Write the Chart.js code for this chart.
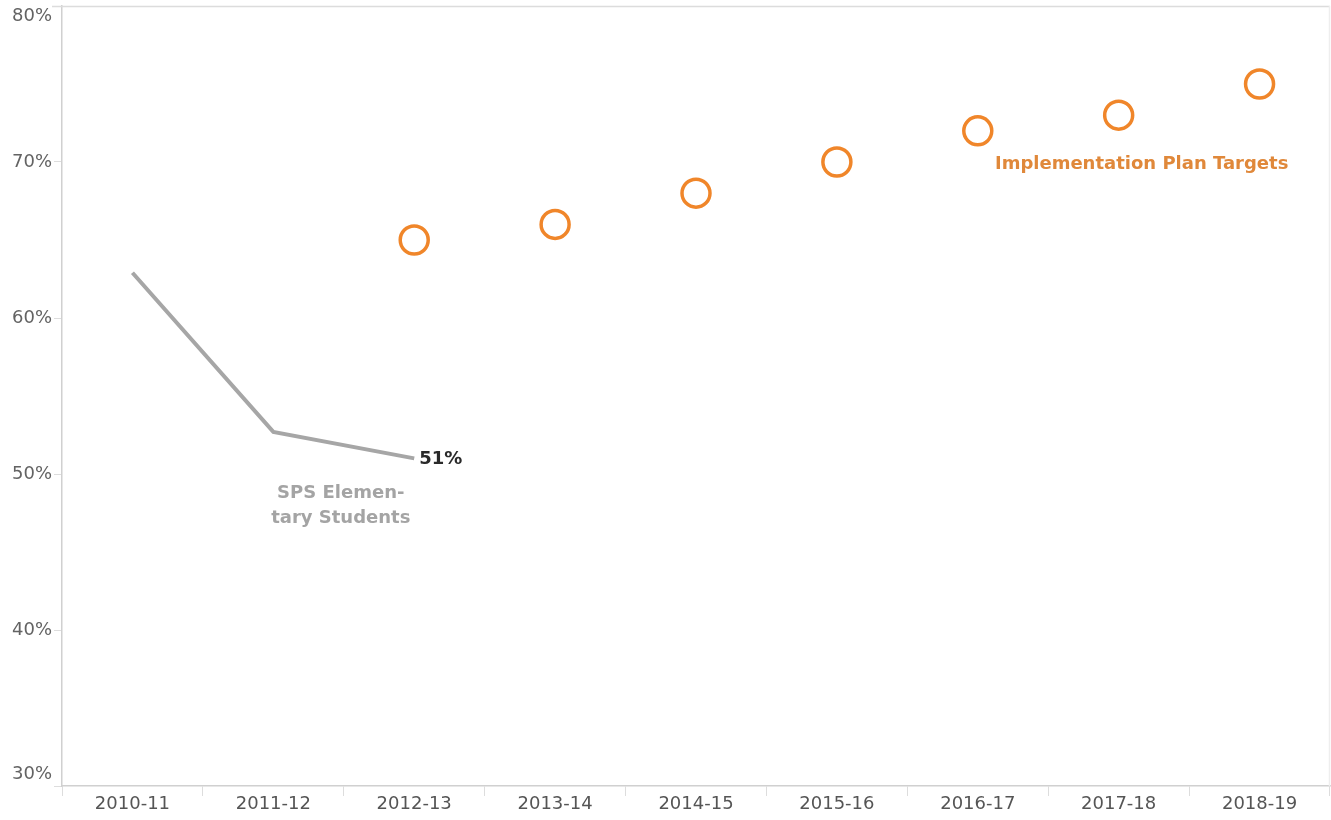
<!DOCTYPE html>
<html>
<head>
<meta charset="utf-8">
<script src="https://cdn.jsdelivr.net/npm/chart.js@4/dist/chart.umd.min.js"></script>
<style>
  html, body { margin: 0; padding: 0; background: #fff; }
  #wrap { width: 1331px; height: 820px; position: relative; }
</style>
</head>
<body>
<div id="wrap"><canvas id="c" width="1331" height="820"></canvas></div>
<script>
const categories = ['2010-11','2011-12','2012-13','2013-14','2014-15','2015-16','2016-17','2017-18','2018-19'];
const spsElementary = [62.9, 52.7, 51, null, null, null, null, null, null];
const planTargets = [null, null, 65, 66, 68, 70, 72, 73, 75];
const yTicks = [30, 40, 50, 60, 70, 80];

const FONT = "'DejaVu Sans', Verdana, sans-serif";

const decor = {
  id: 'decor',
  afterDraw(chart) {
    const ctx = chart.ctx;
    const ca = chart.chartArea;
    const ys = chart.scales.y;
    ctx.save();
    // top border
    ctx.strokeStyle = '#dcdcdc';
    ctx.lineWidth = 1.5;
    ctx.beginPath();
    ctx.moveTo(52, ca.top + 0.5);
    ctx.lineTo(ca.right, ca.top + 0.5);
    ctx.stroke();
    // right faint border
    ctx.strokeStyle = '#eeeeee';
    ctx.beginPath();
    ctx.moveTo(ca.right - 0.5, ca.top);
    ctx.lineTo(ca.right - 0.5, ca.bottom);
    ctx.stroke();
    // y labels
    ctx.font = '18px ' + FONT;
    ctx.fillStyle = '#636363';
    ctx.textAlign = 'right';
    ctx.textBaseline = 'middle';
    yTicks.forEach(v => {
      let y = ys.getPixelForValue(v);
      if (v === ys.max) y += 10;
      else if (v === ys.min) y -= 12;
      ctx.fillText(v + '%', 52, y);
    });
    // line labels
    const m0 = chart.getDatasetMeta(0).data;
    const m1 = chart.getDatasetMeta(1).data;
    const p2 = m0[2];
    ctx.textAlign = 'left';
    ctx.font = 'bold 18px ' + FONT;
    ctx.fillStyle = '#2a2a2a';
    ctx.fillText(Math.round(spsElementary[2]) + '%', p2.x + 5, p2.y + 1);
    ctx.textAlign = 'center';
    ctx.font = 'bold 18px ' + FONT;
    ctx.fillStyle = '#a4a4a4';
    const mx = (m0[1].x + m0[2].x) / 2;
    ctx.fillText('SPS Elemen-', mx - 3, p2.y + 35);
    ctx.fillText('tary Students', mx - 3, p2.y + 60);
    ctx.font = 'bold 18px ' + FONT;
    ctx.fillStyle = '#e0883a';
    ctx.fillText('Implementation Plan Targets', m1[7].x + 23, ys.getPixelForValue(70) + 2);
    ctx.restore();
  }
};

new Chart(document.getElementById('c'), {
  type: 'line',
  data: {
    labels: categories,
    datasets: [
      {
        label: 'SPS Elementary Students',
        data: spsElementary,
        borderColor: '#a6a6a6',
        borderWidth: 4,
        pointRadius: 0,
        tension: 0,
        spanGaps: false
      },
      {
        label: 'Implementation Plan Targets',
        data: planTargets,
        showLine: false,
        pointRadius: 14,
        pointBorderWidth: 3.5,
        pointBorderColor: '#f0862a',
        pointBackgroundColor: 'rgba(255,255,255,0)'
      }
    ]
  },
  options: {
    responsive: false,
    animation: false,
    layout: { autoPadding: false, padding: { top: 6, right: 1, left: 0, bottom: 0 } },
    plugins: { legend: { display: false }, tooltip: { enabled: false } },
    scales: {
      x: {
        offset: true,
        grid: { display: true, offset: true, drawOnChartArea: false, tickLength: 10, color: '#dddddd' },
        border: { color: '#d0d0d0', width: 1.5 },
        ticks: { color: '#555', font: { size: 18, family: FONT }, padding: -2, maxRotation: 0 },
        afterFit(s) { s.height = 34; }
      },
      y: {
        min: 30, max: 80,
        ticks: { display: false, stepSize: 10 },
        grid: { display: true, drawOnChartArea: false, tickLength: 8, color: '#dddddd' },
        border: { color: '#d0d0d0', width: 1.5 },
        afterFit(s) { s.width = 62; }
      }
    }
  },
  plugins: [decor]
});
</script>
</body>
</html>
